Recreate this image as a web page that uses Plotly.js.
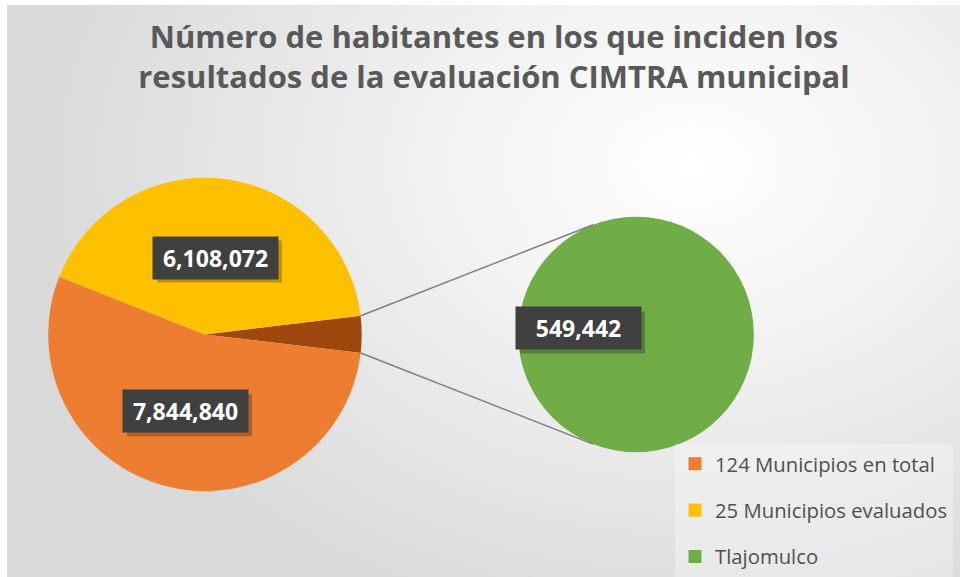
<!DOCTYPE html>
<html><head><meta charset="utf-8">
<script src="https://cdn.plot.ly/plotly-3.0.1.min.js"></script>
<style>
html,body{margin:0;padding:0;background:#fff;overflow:hidden;}
#bg{position:absolute;left:7px;top:5px;width:953px;height:572px;
 background:radial-gradient(ellipse 70% 85% at 72% 28%, #ffffff 0%, #f3f3f3 35%, #d9d9d9 100%);}
#chart{position:absolute;left:0;top:0;width:960px;height:577px;}
</style></head><body>
<div id="bg"></div><div id="chart"></div>
<script>
// ---- data ----
const labels = ['124 Municipios en total', '25 Municipios evaluados', 'Tlajomulco'];
const values = [7844840, 6108072, 549442];
const colors = ['#ED7D31', '#FFC000', '#70AD47'];
const otherColor = '#9E480E';
const titleText = 'Número de habitantes en los que inciden los<br>resultados de la evaluación CIMTRA municipal';

// ---- geometry / style ----
const W = 960, H = 577;
const leftDom = {x: [0.05, 0.377], y: [0.1473, 0.6915]};
const rightDom = {x: [0.5396, 0.7854], y: [0.2149, 0.6239]};
const connectorAngle = 21.3; // deg from vertical on second pie

const total = values.reduce((a, b) => a + b, 0);
const halfOther = 180 * values[2] / total; // degrees
const fmt = v => v.toLocaleString('en-US');

const leftPie = {
  type: 'pie', sort: false, direction: 'clockwise',
  rotation: 90 - halfOther,
  labels: [labels[2], labels[0], labels[1]],
  values: [values[2], values[0], values[1]],
  marker: {colors: [otherColor, colors[0], colors[1]], line: {width: 0}},
  textinfo: 'none', hoverinfo: 'label+value', showlegend: false,
  domain: leftDom
};
const rightPie = {
  type: 'pie', sort: false,
  labels: [labels[2]], values: [values[2]],
  marker: {colors: [colors[2]], line: {width: 0}},
  textinfo: 'none', hoverinfo: 'label+value', showlegend: false,
  domain: rightDom
};
const legendTraces = labels.map((l, i) => ({
  type: 'scatter', mode: 'markers', x: [null], y: [null], name: l,
  legendgroup: 'g' + i,
  marker: {symbol: 'square', size: 13, color: colors[i]}, hoverinfo: 'skip'
}));

// connector lines computed from pie geometry
function pieGeom(d) {
  const w = (d.x[1] - d.x[0]) * W, h = (d.y[1] - d.y[0]) * H;
  return {cx: (d.x[0] + d.x[1]) / 2 * W, cy: (1 - (d.y[0] + d.y[1]) / 2) * H, r: Math.min(w, h) / 2};
}
const gl = pieGeom(leftDom), gr = pieGeom(rightDom);
const th = halfOther * Math.PI / 180, ca = connectorAngle * Math.PI / 180;
const shapes = [-1, 1].map(s => {
  const x0 = gl.cx + gl.r * Math.cos(th), y0 = gl.cy + s * gl.r * Math.sin(th);
  const x1 = gr.cx - gr.r * Math.sin(ca), y1 = gr.cy + s * gr.r * Math.cos(ca);
  return {type: 'line', xref: 'paper', yref: 'paper',
    x0: x0 / W, y0: 1 - y0 / H, x1: x1 / W, y1: 1 - y1 / H,
    line: {color: '#7f7f7f', width: 1.5}};
});

// data label boxes
const boxW = 125, boxH = 42;
const labelPos = [
  {i: 0, x: 185.5, y: 412},
  {i: 1, x: 215.5, y: 258},
  {i: 2, x: 578.5, y: 329}
];
const annotations = [];
labelPos.forEach(p => {
  // soft shadow behind the label box
  shapes.push({type: 'rect', xref: 'paper', yref: 'paper', layer: 'above',
    x0: (p.x - boxW / 2 + 4) / W, x1: (p.x + boxW / 2 + 4) / W,
    y0: 1 - (p.y + boxH / 2 + 4) / H, y1: 1 - (p.y - boxH / 2 + 4) / H,
    fillcolor: 'rgba(0,0,0,0.25)', line: {width: 0}});
  annotations.push({xref: 'paper', yref: 'paper', x: p.x / W, y: 1 - p.y / H,
    xanchor: 'center', yanchor: 'middle', showarrow: false,
    text: fmt(values[p.i]), width: boxW - 6, height: boxH - 6, borderpad: 3,
    bgcolor: '#404040',
    font: {family: 'Open Sans', size: 23, weight: 700, color: '#ffffff'}});
});

const layout = {
  width: W, height: H,
  margin: {l: 0, r: 0, t: 0, b: 0},
  paper_bgcolor: 'rgba(0,0,0,0)', plot_bgcolor: 'rgba(0,0,0,0)',
  title: {text: titleText, x: 494 / W, xanchor: 'center', y: 1 - 48 / H, yanchor: 'top',
    font: {family: 'Open Sans', size: 31, weight: 700, color: '#595959'}},
  xaxis: {visible: false}, yaxis: {visible: false},
  showlegend: true,
  legend: {x: 675 / W, y: 1 - 445 / H, xanchor: 'left', yanchor: 'top',
    bgcolor: 'rgba(255,255,255,0.3)', tracegroupgap: 17, traceorder: 'grouped',
    font: {family: 'Open Sans', size: 20.3, color: '#505050'}},
  shapes: shapes, annotations: annotations
};

Plotly.newPlot('chart', [leftPie, rightPie].concat(legendTraces), layout, {displayModeBar: false, staticPlot: true});
</script>
</body></html>
